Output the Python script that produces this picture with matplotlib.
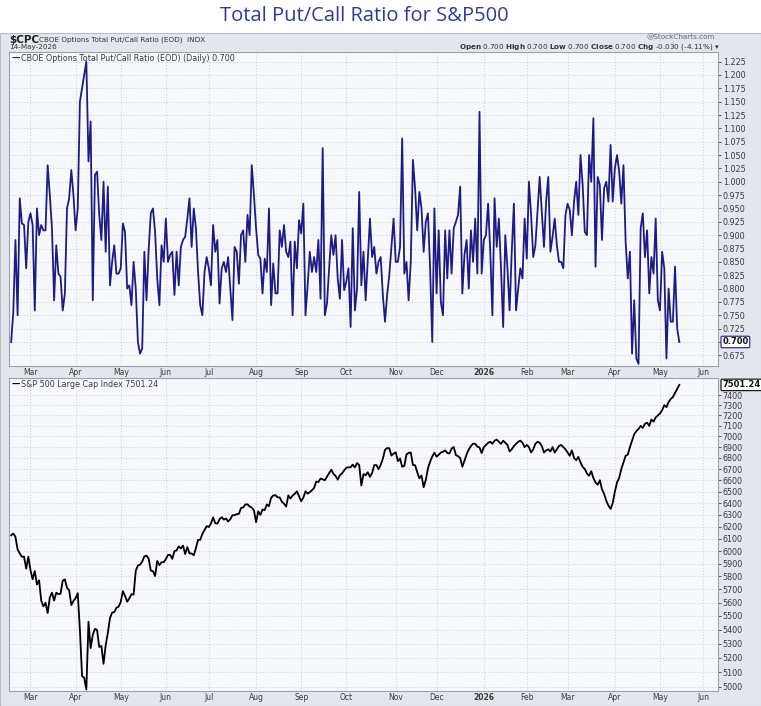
import numpy as np
import pandas as pd
import matplotlib
matplotlib.use('Agg')
import matplotlib.pyplot as plt
from matplotlib.ticker import FixedLocator, NullLocator

# NYSE holidays inside the charted window
holidays = ['2025-04-18', '2025-05-26', '2025-06-19', '2025-07-04', '2025-09-01',
            '2025-11-27', '2025-12-25', '2026-01-01', '2026-01-19', '2026-02-16',
            '2026-04-03', '2026-05-25', '2026-06-19']
last_day = '2026-05-14'

# CBOE total put/call ratio, daily closes
pcr = [0.700, 0.756, 0.891, 0.750, 0.969, 0.922, 0.919, 0.838, 0.925, 0.941,
       0.919, 0.759, 0.950, 0.900, 0.919, 0.909, 0.909, 1.031, 0.975, 0.913,
       0.778, 0.881, 0.828, 0.822, 0.759, 0.791, 0.950, 0.969, 1.022, 0.975,
       0.909, 0.950, 1.150, 1.175, 1.200, 1.225, 1.038, 1.113, 0.778, 1.013,
       1.019, 0.938, 0.891, 1.000, 0.869, 0.991, 0.806, 0.850, 0.881, 0.828,
       0.828, 0.838, 0.922, 0.906, 0.800, 0.806, 0.769, 0.850, 0.800, 0.700,
       0.678, 0.688, 0.869, 0.778, 0.872, 0.941, 0.950, 0.906, 0.819, 0.769,
       0.881, 0.850, 0.931, 0.850, 0.863, 0.869, 0.788, 0.869, 0.806, 0.878,
       0.891, 0.897, 0.931, 0.969, 0.878, 0.950, 0.913, 0.831, 0.769, 0.750,
       0.831, 0.859, 0.838, 0.806, 0.919, 0.869, 0.891, 0.772, 0.838, 0.850,
       0.831, 0.859, 0.800, 0.741, 0.878, 0.869, 0.809, 0.900, 0.909, 0.850,
       0.938, 0.900, 1.031, 0.975, 0.913, 0.863, 0.856, 0.791, 0.856, 0.831,
       0.950, 0.769, 0.847, 0.791, 0.791, 0.909, 0.878, 0.919, 0.869, 0.859,
       0.888, 0.750, 0.888, 0.838, 0.928, 0.903, 0.959, 0.750, 0.806, 0.869,
       0.831, 0.859, 0.831, 0.891, 0.781, 1.063, 0.750, 0.772, 0.838, 0.900,
       0.863, 0.900, 0.819, 0.781, 0.891, 0.797, 0.813, 0.838, 0.728, 0.913,
       0.759, 0.800,
       0.981, 0.806, 0.869, 0.778, 0.856, 0.931, 0.859, 0.878, 0.828, 0.850,
       0.859, 0.788, 0.738, 0.788, 0.825, 0.878, 0.931, 0.850, 0.850, 0.878,
       1.081, 0.828, 0.850, 0.778, 0.850, 1.041, 0.988, 0.909, 0.981, 0.950,
       0.869, 0.925, 0.941, 0.838, 0.700, 0.950, 0.791, 0.909, 0.775, 0.750,
       0.909, 0.819, 0.909, 0.828, 0.913, 0.925, 0.938, 0.991, 0.791, 0.863,
       0.891, 0.800, 0.909, 0.850, 0.931, 0.828, 1.131, 0.828, 0.891, 0.900,
       0.959, 0.869, 0.750, 0.969, 0.878, 0.931, 0.838, 0.728, 0.900, 0.838,
       0.759, 0.869, 0.959, 0.759, 0.800, 0.838, 0.819, 0.931, 0.856, 1.000,
       0.938,
       0.859, 0.881, 0.944, 1.009, 0.944, 0.878, 0.963, 1.009, 0.869, 0.897,
       0.931, 0.881, 0.850, 0.850, 0.838, 0.938, 0.959, 0.947, 0.900, 0.963,
       1.000, 0.938, 1.050, 0.994, 0.906, 0.900, 1.050, 1.000, 1.119, 0.841,
       1.009, 0.994, 0.891, 0.988, 1.000, 0.963, 1.069, 0.963, 1.025, 1.050,
       1.019, 0.959, 1.031, 0.888, 0.819, 0.869, 0.678, 0.778, 0.669, 0.659,
       0.913, 0.941, 0.859, 0.909, 0.791, 0.859, 0.828, 0.931, 0.778, 0.759,
       0.869, 0.838, 0.669, 0.800, 0.738, 0.738, 0.841, 0.725, 0.700]

# S&P 500 daily closes
spx = [6129, 6144, 6117, 6013, 5983, 5955, 5956, 5861, 5955,
       5849, 5778, 5842, 5738, 5770, 5615, 5572, 5599, 5522, 5639, 5675,
       5615, 5675, 5663, 5668, 5767, 5777, 5712, 5693, 5581, 5612,
       5633, 5671, 5397, 5074, 5062, 4983, 5457, 5268, 5363, 5406, 5397,
       5276, 5283, 5158, 5288, 5376, 5485, 5525, 5529, 5561, 5569,
       5604, 5687, 5650, 5607, 5631, 5664, 5660, 5844, 5886, 5892, 5917,
       5958, 5964, 5940, 5845, 5842, 5803, 5922, 5889, 5912, 5912,
       5936, 5970, 5971, 5939, 6000, 6006, 6039, 6022, 6045, 5977, 6033,
       5983, 5981, 5967, 6025, 6092, 6092, 6141, 6173, 6205,
       6198, 6227, 6279, 6230, 6226, 6263, 6280, 6260, 6269, 6244, 6264,
       6297, 6297, 6306, 6309, 6359, 6363, 6389, 6390, 6371, 6362, 6339,
       6238, 6330, 6299, 6345, 6340, 6389, 6374, 6446, 6466, 6469, 6450,
       6449, 6412, 6396, 6370, 6467, 6440, 6466, 6481, 6502, 6460,
       6416, 6448, 6502, 6482, 6495, 6512, 6532, 6588, 6584, 6615, 6607,
       6600, 6631, 6664, 6694, 6657, 6638, 6605, 6644, 6661, 6688,
       6711, 6715, 6716, 6740, 6714, 6754, 6735, 6553, 6654, 6644, 6671,
       6630, 6664, 6735, 6736, 6699, 6738, 6792, 6875, 6891, 6890, 6822, 6840,
       6852, 6771, 6796, 6720, 6728, 6832, 6846, 6851, 6737, 6734, 6672,
       6617, 6642, 6538, 6603, 6705, 6766, 6813, 6849,
       6812, 6829, 6850, 6857, 6870, 6846, 6840, 6887, 6901, 6827, 6816,
       6800, 6721, 6775, 6834, 6878, 6910, 6932, 6930, 6905, 6896, 6845,
       6900, 6920, 6940, 6950, 6930, 6960, 6970, 6950, 6930, 6960,
       6940, 6920, 6860, 6880, 6910, 6930, 6950, 6960, 6940, 6900,
       6920, 6900, 6850, 6880, 6930, 6950, 6940, 6910, 6850, 6870,
       6880, 6860, 6900, 6850, 6880, 6910, 6920, 6900, 6880,
       6850, 6820, 6870, 6800, 6780, 6810, 6760, 6720, 6700, 6660, 6640,
       6680, 6620, 6580, 6560, 6600, 6520, 6480, 6420, 6380, 6350, 6400,
       6500, 6580, 6620, 6700, 6760, 6820, 6830, 6900, 6960, 7020, 7050,
       7070, 7100, 7080, 7120, 7130, 7100, 7160, 7140, 7180, 7200,
       7220, 7250, 7300, 7280, 7330, 7360, 7380, 7420, 7460, 7501.24]

pcr_ticks = [0.675 + 0.025 * i for i in range(23)]
spx_ticks = list(range(5000, 7500, 100))

# trading-day axis, like StockCharts
bday = pd.offsets.CustomBusinessDay(holidays=holidays)
cal = pd.date_range('2025-02-18', '2026-06-30', freq=bday)
pos = pd.Series(np.arange(len(cal)), index=cal)
end = pos[pd.Timestamp(last_day)]
x_pcr = np.arange(end - len(pcr) + 1, end + 1)
x_spx = np.arange(end - len(spx) + 1, end + 1)

firsts = cal.to_series().groupby(cal.to_period('M')).first()
firsts = firsts[firsts >= pd.Timestamp('2025-03-01')]
month_pos = [pos[d] for d in firsts]
month_lab = ['2026' if (d.month == 1) else d.strftime('%b') for d in firsts]

navy = '#1c1c84'
grid_c = '#c9cdd6'
txt_c = '#3a3a3a'
W, H = 761, 706

fig = plt.figure(figsize=(7.61, 7.06), dpi=100)
fig.patch.set_facecolor('white')
fig.add_artist(plt.Rectangle((0, 0), 1, 1 - 33 / H, transform=fig.transFigure,
                             facecolor='#e3e6ec', edgecolor='#b8bcc4', lw=0.8, zorder=0))

fig.text(364 / W, 1 - 16 / H, 'Total Put/Call Ratio for S&P500', ha='center', va='center',
         fontsize=14.5, color='#3535a8', family='Open Sans')

# header
fig.text(9 / W, 1 - 40 / H, '$CPC', fontsize=7.5, fontweight='bold', va='center', color='#222222')
fig.text(39 / W, 1 - 40 / H, 'CBOE Options Total Put/Call Ratio (EOD)  INDX', fontsize=5.2,
         va='center', color='#333333')
fig.text(9 / W, 1 - 47.5 / H, '14-May-2026', fontsize=5.2, va='center', color='#333333')
fig.text(715 / W, 1 - 37 / H, '@StockCharts.com', fontsize=5.2, ha='right', va='center', color='#666666')
fig.text(720 / W, 1 - 47.5 / H,
         r'$\bf{Open}$ 0.700 $\bf{High}$ 0.700 $\bf{Low}$ 0.700 $\bf{Close}$ 0.700 $\bf{Chg}$ -0.030 (-4.11%) ▾',
         fontsize=5.2, ha='right', va='center', color='#333333')

ax1 = fig.add_axes([9 / W, 1 - 366 / H, 709 / W, 314 / H])
ax2 = fig.add_axes([9 / W, 1 - 691 / H, 709 / W, 313 / H])

ax1.plot(x_pcr, pcr, color=navy, lw=1.3)
ax2.plot(x_spx, spx, color='black', lw=1.3)

ax1.set_ylim(0.655, 1.243)
ax2.set_yscale('log')
ax2.set_ylim(4973, 7571)

for ax in (ax1, ax2):
    ax.set_facecolor('#f7f8fb')
    ax.set_xlim(-1, 329)
    ax.xaxis.set_major_locator(FixedLocator(month_pos))
    ax.set_xticklabels(month_lab)
    ax.yaxis.tick_right()
    ax.tick_params(axis='y', labelsize=5.8, colors=txt_c, length=2, width=0.6, pad=1.5)
    ax.tick_params(axis='x', labelsize=5.5, colors=txt_c, length=0, pad=1.5)
    ax.grid(True, color=grid_c, linestyle=(0, (1, 2)), lw=0.7)
    for s in ax.spines.values():
        s.set_color('#9ba1ab')
        s.set_linewidth(0.8)
    for lab in ax.get_xticklabels():
        if lab.get_text() == '2026':
            lab.set_fontweight('bold')

# the 0.700 level is shown by the last-value tag instead of a plain label
ax1.yaxis.set_major_locator(FixedLocator(pcr_ticks))
ax1.set_yticklabels(['' if abs(t - pcr[-1]) < 1e-6 else '%.3f' % t for t in pcr_ticks])
ax2.yaxis.set_major_locator(FixedLocator(spx_ticks))
ax2.yaxis.set_minor_locator(NullLocator())
ax2.set_yticklabels([str(t) for t in spx_ticks])

# legends
ax1.text(0.004, 0.993, '—', transform=ax1.transAxes, fontsize=6, color=navy, va='top', fontweight='bold')
ax1.text(0.017, 0.993, 'CBOE Options Total Put/Call Ratio (EOD) (Daily) 0.700', transform=ax1.transAxes,
         fontsize=5.8, color=txt_c, va='top')
ax2.text(0.004, 0.993, '—', transform=ax2.transAxes, fontsize=6, color='black', va='top', fontweight='bold')
ax2.text(0.017, 0.993, 'S&P 500 Large Cap Index 7501.24', transform=ax2.transAxes,
         fontsize=5.8, color=txt_c, va='top')

# last-value tags
ax1.text(1.006, pcr[-1], '%.3f' % pcr[-1], transform=ax1.get_yaxis_transform(), fontsize=6,
         fontweight='bold', va='center', ha='left', color='#111111',
         bbox=dict(boxstyle='round,pad=0.15', fc='white', ec=navy, lw=0.8))
ax2.text(1.006, spx[-1], '%.2f' % spx[-1], transform=ax2.get_yaxis_transform(), fontsize=6,
         fontweight='bold', va='center', ha='left', color='#111111',
         bbox=dict(boxstyle='round,pad=0.15', fc='white', ec='black', lw=0.8))

fig.savefig('out.png', dpi=100)
